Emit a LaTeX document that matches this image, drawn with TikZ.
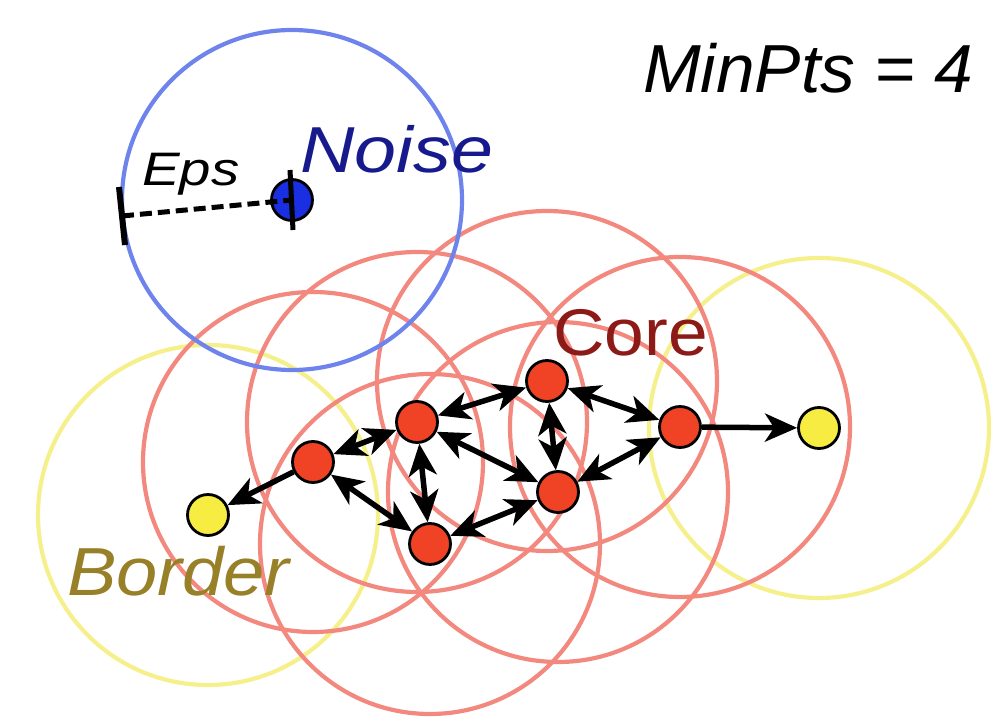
\documentclass[tikz,border=0pt]{standalone}
\usepackage{fontspec}
\usepackage{graphicx}
\setmainfont{Liberation Sans}
\usetikzlibrary{arrows.meta}
\definecolor{ringred}{RGB}{242,136,126}
\definecolor{ringyel}{RGB}{246,240,140}
\definecolor{ringblue}{RGB}{110,132,236}
\definecolor{ptred}{RGB}{240,66,36}
\definecolor{ptyel}{RGB}{246,236,66}
\definecolor{ptblue}{RGB}{26,46,226}
\definecolor{noisetxt}{RGB}{22,26,140}
\definecolor{coretxt}{RGB}{140,26,22}
\definecolor{bordertxt}{RGB}{152,128,40}
\tikzset{
  pt/.style={circle, draw=black, line width=2.8pt, minimum size=41pt, inner sep=0pt},
  corept/.style={pt, fill=ptred},
  borderpt/.style={pt, fill=ptyel},
  noisept/.style={pt, fill=ptblue},
  ring/.style={line width=4.2pt},
  link/.style={line width=5.5pt, {Stealth[length=32pt,width=28pt,inset=9pt]}-{Stealth[length=32pt,width=28pt,inset=9pt]}},
  onelink/.style={line width=5.5pt, -{Stealth[length=32pt,width=28pt,inset=9pt]}},
  lbl/.style={anchor=base west, inner sep=0pt}
}
\begin{document}
\begin{tikzpicture}[x=1pt,y=-1pt]
\useasboundingbox (0,0) rectangle (997,727);
% coordinates of points
\coordinate (pA) at (313,462);
\coordinate (pB) at (417,422);
\coordinate (pC) at (547,381);
\coordinate (pD) at (680,427);
\coordinate (pE) at (558,492);
\coordinate (pF) at (430,544);
\coordinate (pL) at (208,515);
\coordinate (pR) at (819,428);
\coordinate (pN) at (292,200);
% rings
\draw[ring, ringyel] (pL) circle (170);
\draw[ring, ringyel] (pR) circle (170);
\foreach \p in {pA,pB,pC,pD,pE,pF} \draw[ring, ringred] (\p) circle (170);
\draw[ring, ringblue] (pN) circle (170);
% points
\node[corept] (A) at (pA) {};
\node[corept] (B) at (pB) {};
\node[corept] (C) at (pC) {};
\node[corept] (D) at (pD) {};
\node[corept] (E) at (pE) {};
\node[corept] (F) at (pF) {};
\node[borderpt] (L) at (pL) {};
\node[borderpt] (R) at (pR) {};
\node[noisept] (N) at (pN) {};
% connectors
\draw[link] (A) -- (B);
\draw[onelink] (A) -- (L);
\draw[link] (A) -- (F);
\draw[link] (B) -- (C);
\draw[link] (B) -- (F);
\draw[link] (B) -- (E);
\draw[link] (C) -- (D);
\draw[link] (C) -- (E);
\draw[link] (E) -- (D);
\draw[link] (E) -- (F);
\draw[onelink] (D) -- (R);
% Eps
\coordinate (epsend) at (122,216);
\coordinate (tkA) at (119,187);
\coordinate (tkB) at (125,245);
\coordinate (tnA) at (290,170);
\coordinate (tnB) at (293,230);
\draw[line width=5pt, dash pattern=on 12pt off 6pt] (epsend) -- (N.center);
\draw[line width=6pt] (tkA) -- (tkB);
\draw[line width=5pt] (tnA) -- (tnB);
% labels
\node[lbl] (minpts) at (643,93) {\fontsize{68}{70}\selectfont\itshape\scalebox{1.02}[1]{MinPts = 4}};
\node[lbl, text=noisetxt] (noise) at (300,173) {\fontsize{65}{70}\selectfont\itshape\scalebox{1.16}[1]{Noise}};
\node[lbl] (eps) at (142,186) {\fontsize{47}{50}\selectfont\itshape\scalebox{1.2}[1]{Eps}};
\node[lbl, text=coretxt] (core) at (553,356) {\fontsize{66}{70}\selectfont\scalebox{1.08}[1]{Core}};
\node[lbl, text=bordertxt] (border) at (67,595) {\fontsize{68}{70}\selectfont\itshape\scalebox{1.09}[1]{Border}};
\end{tikzpicture}
\end{document}
